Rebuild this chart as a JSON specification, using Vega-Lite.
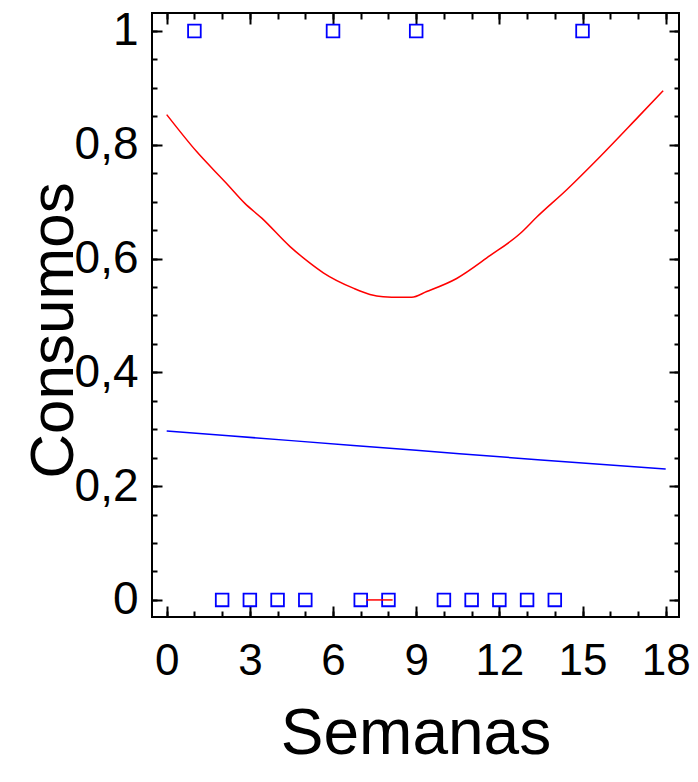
{
  "$schema": "https://vega.github.io/schema/vega-lite/v6.json",
  "width": 527,
  "height": 604,
  "autosize": "none",
  "padding": {"left": 152, "top": 13, "right": 19, "bottom": 165},
  "background": "white",
  "config": {
    "view": {"stroke": "#000000", "strokeWidth": 2},
    "axis": {"grid": false, "domain": false, "tickColor": "#000000", "tickWidth": 2, "labelColor": "#000000", "titleColor": "#000000", "labelFont": "Liberation Sans", "titleFont": "Liberation Sans", "titleFontWeight": "normal"}
  },
  "datasets": {
    "obs": [
      {"x": 1, "y": 1}, {"x": 6, "y": 1}, {"x": 9, "y": 1}, {"x": 15, "y": 1},
      {"x": 2, "y": 0}, {"x": 3, "y": 0}, {"x": 4, "y": 0}, {"x": 5, "y": 0},
      {"x": 7, "y": 0}, {"x": 8, "y": 0}, {"x": 10, "y": 0}, {"x": 11, "y": 0},
      {"x": 12, "y": 0}, {"x": 13, "y": 0}, {"x": 14, "y": 0}
    ],
    "upper": [
      {"x": 0, "y": 0.853}, {"x": 1.08, "y": 0.788}, {"x": 2.16, "y": 0.732}, {"x": 2.82, "y": 0.697},
      {"x": 3.43, "y": 0.671}, {"x": 4.45, "y": 0.621}, {"x": 5.17, "y": 0.592}, {"x": 5.65, "y": 0.575},
      {"x": 6.73, "y": 0.548}, {"x": 7.33, "y": 0.537}, {"x": 7.81, "y": 0.533}, {"x": 8.42, "y": 0.532},
      {"x": 8.84, "y": 0.532}, {"x": 9.38, "y": 0.542}, {"x": 10.46, "y": 0.565}, {"x": 11.66, "y": 0.605},
      {"x": 12.75, "y": 0.644}, {"x": 13.35, "y": 0.673}, {"x": 14.43, "y": 0.721}, {"x": 15.63, "y": 0.779},
      {"x": 17.01, "y": 0.849}, {"x": 17.91, "y": 0.895}
    ],
    "fit": [
      {"x": 0, "y": 0.297}, {"x": 4.5, "y": 0.280}, {"x": 9, "y": 0.263}, {"x": 13.5, "y": 0.246}, {"x": 18, "y": 0.230}
    ],
    "lower": [
      {"x": 7.2, "y": 0}, {"x": 8.15, "y": 0}
    ]
  },
  "resolve": {"axis": {"x": "independent", "y": "independent"}},
  "layer": [
    {
      "data": {"name": "obs"},
      "mark": {"type": "point", "shape": "square", "filled": false, "stroke": "#0000ff", "strokeWidth": 1.8, "size": 160, "opacity": 1},
      "encoding": {
        "x": {"field": "x", "type": "quantitative", "scale": {"domain": [-0.53, 18.48], "nice": false, "zero": false},
          "axis": {"orient": "bottom", "values": [0, 3, 6, 9, 12, 15, 18], "ticks": false, "labelFontSize": 44, "labelPadding": 22, "labelFlush": false,
            "title": "Semanas", "titleFontSize": 64, "titleBaseline": "alphabetic", "titleY": 136}},
        "y": {"field": "y", "type": "quantitative", "scale": {"domain": [-0.03, 1.0316], "nice": false, "zero": false},
          "axis": {"orient": "left", "values": [0, 0.2, 0.4, 0.6, 0.8, 1], "ticks": false, "labelFontSize": 46, "labelPadding": 14, "labelFlush": false,
            "labelExpr": "replace(format(datum.value, '~g'), '.', ',')",
            "title": "Consumos", "titleFontSize": 62, "titleAngle": -90, "titleBaseline": "alphabetic", "titleAlign": "center", "titleX": -80, "titleY": 317}}
      }
    },
    {
      "data": {"name": "obs"},
      "mark": {"type": "point", "opacity": 0},
      "encoding": {
        "x": {"field": "x", "type": "quantitative", "axis": {"orient": "bottom", "values": [0, 3, 6, 9, 12, 15, 18], "labels": false, "tickSize": -11, "title": null}},
        "y": {"field": "y", "type": "quantitative", "axis": {"orient": "left", "values": [0, 0.2, 0.4, 0.6, 0.8, 1], "labels": false, "tickSize": -10, "title": null}}
      }
    },
    {
      "data": {"name": "upper"},
      "mark": {"type": "line", "color": "#ff0000", "strokeWidth": 1.5, "interpolate": "monotone"},
      "encoding": {
        "x": {"field": "x", "type": "quantitative", "axis": {"orient": "bottom", "values": [0, 1, 2, 3, 4, 5, 6, 7, 8, 9, 10, 11, 12, 13, 14, 15, 16, 17, 18], "labels": false, "tickSize": -6, "title": null}},
        "y": {"field": "y", "type": "quantitative", "axis": {"orient": "left", "values": [0, 0.05, 0.1, 0.15, 0.2, 0.25, 0.3, 0.35, 0.4, 0.45, 0.5, 0.55, 0.6, 0.65, 0.7, 0.75, 0.8, 0.85, 0.9, 0.95, 1], "labels": false, "tickSize": -5, "title": null}}
      }
    },
    {
      "data": {"name": "fit"},
      "mark": {"type": "line", "color": "#0000ff", "strokeWidth": 1.5, "interpolate": "monotone"},
      "encoding": {
        "x": {"field": "x", "type": "quantitative", "axis": {"orient": "top", "values": [0, 3, 6, 9, 12, 15, 18], "labels": false, "tickSize": -11, "title": null}},
        "y": {"field": "y", "type": "quantitative", "axis": {"orient": "right", "values": [0, 0.2, 0.4, 0.6, 0.8, 1], "labels": false, "tickSize": -10, "title": null}}
      }
    },
    {
      "data": {"name": "lower"},
      "mark": {"type": "line", "color": "#ff0000", "strokeWidth": 1.5},
      "encoding": {
        "x": {"field": "x", "type": "quantitative", "axis": {"orient": "top", "values": [0, 1, 2, 3, 4, 5, 6, 7, 8, 9, 10, 11, 12, 13, 14, 15, 16, 17, 18], "labels": false, "tickSize": -6, "title": null}},
        "y": {"field": "y", "type": "quantitative", "axis": {"orient": "right", "values": [0, 0.05, 0.1, 0.15, 0.2, 0.25, 0.3, 0.35, 0.4, 0.45, 0.5, 0.55, 0.6, 0.65, 0.7, 0.75, 0.8, 0.85, 0.9, 0.95, 1], "labels": false, "tickSize": -5, "title": null}}
      }
    }
  ]
}
